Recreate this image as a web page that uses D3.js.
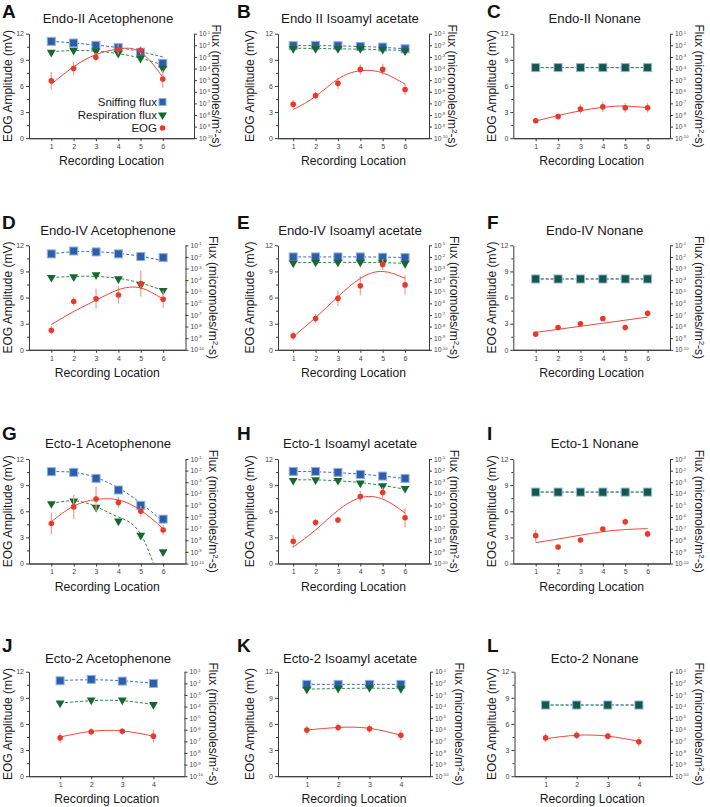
<!DOCTYPE html>
<html><head><meta charset="utf-8">
<script src="https://cdn.jsdelivr.net/npm/d3@7"></script>
<style>
body{margin:0;background:#fff}
svg{display:block}
text{font-family:"Liberation Sans",Arial,Helvetica,sans-serif}
</style>
</head><body>
<svg id="c" width="710" height="807"></svg>
<script>
// ---------------- DATA ----------------
const panelLetter = ["A","B","C","D","E","F","G","H","I","J","K","L"];
const panelTitle = ["Endo-II Acetophenone","Endo II Isoamyl acetate","Endo-II Nonane",
  "Endo-IV Acetophenone","Endo-IV Isoamyl acetate","Endo-IV Nonane",
  "Ecto-1 Acetophenone","Ecto-1 Isoamyl acetate","Ecto-1 Nonane",
  "Ecto-2 Acetophenone","Ecto-2 Isoamyl acetate","Ecto-2 Nonane"];
const locations6 = [1,2,3,4,5,6];
const locations4 = [1,2,3,4];
const eogTicks = [0,3,6,9,12];
const eogMinorTicks = [1.5,4.5,7.5,10.5];
const fluxExpTicks = [-1,-2,-3,-4,-5,-6,-7,-8,-9,-10];
const legendLabels = ["Sniffing flux","Respiration flux","EOG"];

// EOG amplitude (mV), mean per recording location
const eogMean = [
  [6.6,8.0,9.3,10.2,10.1,6.8],
  [3.9,4.9,6.3,7.9,7.9,5.6],
  [2.0,2.5,3.35,3.6,3.5,3.5],
  [2.25,5.55,5.85,6.3,7.6,5.8],
  [1.6,3.6,5.9,7.35,9.8,7.45],
  [1.8,2.55,3.0,3.6,2.55,4.2],
  [4.6,6.5,7.4,7.0,6.0,3.85],
  [2.55,4.7,5.0,7.7,8.15,5.25],
  [3.2,1.9,2.7,3.95,4.8,3.4],
  [4.4,5.1,5.15,4.6],
  [5.3,5.6,5.45,4.7],
  [4.4,4.7,4.6,3.95]
];
// EOG standard error
const eogErr = [
  [1.0,0.75,0.5,0.55,0.45,1.0],
  [0.5,0.4,0.65,0.6,0.65,0.65],
  [0.15,0.35,0.55,0.6,0.55,0.55],
  [0.5,0.5,1.15,1.0,1.5,1.0],
  [0.5,0.5,0.9,1.1,0.6,1.1],
  [0.2,0.15,0.2,0.2,0.3,0.35],
  [1.25,1.4,1.4,0.65,0.6,0.55],
  [0.75,0.4,0.3,0.6,0.6,1.1],
  [0.7,0.15,0.15,0.2,0.4,0.4],
  [0.6,0.4,0.35,0.75],
  [0.5,0.45,0.5,0.55],
  [0.5,0.45,0.4,0.55]
];
// EOG fitted curve, read at each recording location
const eogFit = [
  [6.2,8.2,9.6,10.25,9.9,7.0],
  [3.3,4.8,6.8,7.75,7.5,6.2],
  [1.98,2.6,3.15,3.55,3.7,3.5],
  [2.9,4.4,5.7,6.9,7.1,5.8],
  [1.5,3.7,6.1,8.2,9.0,8.2],
  [2.0,2.35,2.7,3.05,3.4,3.75],
  [4.8,6.6,7.35,7.3,6.1,4.0],
  [1.9,3.85,6.1,7.55,7.4,5.8],
  [2.4,2.8,3.25,3.65,3.9,4.0],
  [4.5,5.15,5.2,4.6],
  [5.3,5.6,5.5,4.7],
  [4.3,4.7,4.6,4.0]
];
// Sniffing flux, log10(micromoles/m2-s)
const sniffLog = [
  [-1.66,-1.8,-2.0,-2.2,-2.6,-3.55],
  [-2.03,-2.0,-2.03,-2.1,-2.15,-2.3],
  [-3.92,-3.92,-3.92,-3.92,-3.92,-3.92],
  [-1.74,-1.49,-1.57,-1.74,-1.97,-2.06],
  [-2.0,-2.0,-2.0,-2.0,-2.03,-2.06],
  [-3.9,-3.9,-3.9,-3.9,-3.9,-3.9],
  [-2.09,-2.15,-2.67,-3.67,-4.99,-6.18],
  [-2.07,-2.07,-2.15,-2.33,-2.47,-2.67],
  [-3.85,-3.85,-3.85,-3.85,-3.85,-3.85],
  [-1.78,-1.66,-1.81,-2.01],
  [-2.09,-2.09,-2.09,-2.09],
  [-3.87,-3.87,-3.87,-3.87]
];
const sniffFitLog = [
  [-1.66,-1.8,-1.98,-2.2,-2.55,-3.0],
  [-2.03,-2.03,-2.05,-2.1,-2.18,-2.3],
  [-3.92,-3.92,-3.92,-3.92,-3.92,-3.92],
  [-1.74,-1.55,-1.55,-1.7,-1.95,-2.34],
  [-2.0,-2.0,-2.0,-2.0,-2.02,-2.05],
  [-3.9,-3.9,-3.9,-3.9,-3.9,-3.9],
  [-2.09,-2.15,-2.6,-3.5,-4.8,-6.4],
  [-2.07,-2.1,-2.18,-2.3,-2.47,-2.68],
  [-3.85,-3.85,-3.85,-3.85,-3.85,-3.85],
  [-1.75,-1.7,-1.78,-2.0],
  [-2.09,-2.09,-2.09,-2.09],
  [-3.87,-3.87,-3.87,-3.87]
];
// Respiration flux, log10(micromoles/m2-s)
const respLog = [
  [-2.6,-2.43,-2.49,-2.69,-3.12,-3.98],
  [-2.29,-2.29,-2.29,-2.29,-2.35,-2.49],
  [-3.92,-3.92,-3.92,-3.92,-3.92,-3.92],
  [-3.77,-3.71,-3.54,-3.89,-4.4,-4.89],
  [-2.54,-2.46,-2.46,-2.46,-2.49,-2.57],
  [-3.9,-3.9,-3.9,-3.9,-3.9,-3.9],
  [-4.85,-4.62,-5.17,-6.35,-7.58,-8.99],
  [-2.85,-2.79,-2.85,-3.08,-3.31,-3.54],
  [-3.85,-3.85,-3.85,-3.85,-3.85,-3.85],
  [-3.71,-3.45,-3.45,-3.83],
  [-2.51,-2.43,-2.37,-2.46],
  [-3.87,-3.87,-3.87,-3.87]
];
const respFitLog = [
  [-2.55,-2.45,-2.5,-2.72,-3.1,-3.7],
  [-2.25,-2.27,-2.3,-2.33,-2.38,-2.45],
  [-3.92,-3.92,-3.92,-3.92,-3.92,-3.92],
  [-3.77,-3.68,-3.68,-3.85,-4.25,-4.89],
  [-2.5,-2.48,-2.47,-2.47,-2.5,-2.55],
  [-3.9,-3.9,-3.9,-3.9,-3.9,-3.9],
  [-4.85,-4.6,-5.1,-6.0,-7.5,-12.5],
  [-2.8,-2.8,-2.88,-3.03,-3.28,-3.6],
  [-3.85,-3.85,-3.85,-3.85,-3.85,-3.85],
  [-3.7,-3.5,-3.5,-3.83],
  [-2.5,-2.45,-2.42,-2.45],
  [-3.87,-3.87,-3.87,-3.87]
];

// ---------------- LAYOUT ----------------
const rowTop = [33.7, 245.3, 459, 671.7];
const plotH = 104.5;
const panelXRange = [
  [29,194],[278,429],[513.3,670],
  [29,185.5],[278,429],[513.3,670],
  [29,185.5],[278,429],[513.3,670],
  [29,184.5],[278,430],[514.5,670]
];
const panelXDomain = [
  [0,7.4],[0.32,7.07],[0,7],
  [0,7],[0.32,7.07],[0,7],
  [0,7],[0.32,7.07],[0,7],
  [0,5],[0.08,4.93],[0,5]
];
const panelFluxTitleX = [212,448,695, 209,450,695, 209,450,695, 209,455,695];
const squareRespPanels = [2,5,8,11]; // respiration markers hidden under square markers
const colTitleX = [108, 350, 594.7];
const colLetterX = [2, 237, 487];
const rowLetterY = [18, 229, 440, 652];
const rowTitleY = [22.7, 234.5, 447.7, 663];
const colYTitleX = [12, 254, 496];

const C = {
  blue:"#2f5ea8", blueEdge:"#8fb1e3", blueLine:"#3d6fc2",
  green:"#17682f", greenLine:"#2b8a45",
  red:"#e8392c", redErr:"#f39a92", redLine:"#ec4a3c",
  axis:"#3a3a3a", tickText:"#444", text:"#1a1a1a"
};

const svg = d3.select("#c");
svg.append("rect").attr("width",710).attr("height",807).attr("fill","#fff");

panelLetter.forEach((letter, i) => {
  const col = i % 3, row = Math.floor(i / 3);
  const locs = eogMean[i].length === 6 ? locations6 : locations4;
  const top = rowTop[row], bottom = top + plotH;
  const x = d3.scaleLinear().domain(panelXDomain[i]).range(panelXRange[i]);
  const y = d3.scaleLinear().domain([0,12]).range([bottom, top]);
  const yR = d3.scaleLog().domain([1e-10, 1e-1]).range([bottom, top]);
  const g = svg.append("g");
  const clipId = "clip" + i;
  g.append("clipPath").attr("id", clipId).append("rect")
    .attr("x", panelXRange[i][0]).attr("y", top - 6)
    .attr("width", panelXRange[i][1] - panelXRange[i][0]).attr("height", plotH + 6);

  // letter and title
  g.append("text").attr("x", colLetterX[col]).attr("y", rowLetterY[row])
    .attr("font-size", 19).attr("font-weight", "bold").attr("fill", "#111").text(letter);
  g.append("text").attr("x", colTitleX[col]).attr("y", rowTitleY[row])
    .attr("text-anchor","middle").attr("font-size", 13.2).attr("fill", C.text).text(panelTitle[i]);

  // left axis
  const axL = g.append("g").attr("transform", `translate(${panelXRange[i][0]},0)`)
    .call(d3.axisLeft(y).tickValues(eogTicks).tickSize(3).tickSizeOuter(0).tickPadding(2));
  g.append("g").attr("transform", `translate(${panelXRange[i][0]},0)`)
    .call(d3.axisLeft(y).tickValues(eogMinorTicks).tickSize(2).tickFormat(""))
    .call(s => s.select(".domain").remove());
  // right axis
  const axR = g.append("g").attr("transform", `translate(${panelXRange[i][1]},0)`)
    .call(d3.axisRight(yR).tickValues(fluxExpTicks.map(e => Math.pow(10, e)))
      .tickSize(3).tickSizeOuter(0).tickPadding(2).tickFormat(""));
  // bottom axis
  const axB = g.append("g").attr("transform", `translate(0,${bottom})`)
    .call(d3.axisBottom(x).tickValues(locs).tickSize(3).tickSizeOuter(0).tickPadding(3).tickFormat(d3.format("d")));
  [axL, axR, axB].forEach(a => {
    a.selectAll("text").attr("font-size", 7).attr("fill", C.tickText).attr("font-family", "Liberation Sans, Arial, sans-serif");
    a.selectAll("line,path").attr("stroke", C.axis);
  });
  axR.selectAll(".tick text").attr("font-size", 6.6).each(function(d){
    const t = d3.select(this);
    const e = Math.round(Math.log10(d));
    t.append("tspan").text("10");
    t.append("tspan").attr("dy", -2.6).attr("font-size", 4.3).text(String(e));
  });
  g.selectAll(".tick line").attr("stroke", C.axis);
  g.append("line").attr("x1", panelXRange[i][0]).attr("x2", panelXRange[i][1])
    .attr("y1", bottom + 0.5).attr("y2", bottom + 0.5).attr("stroke", C.axis);

  // axis titles
  g.append("text").attr("transform", `translate(${colYTitleX[col]},${(top+bottom)/2}) rotate(-90)`)
    .attr("text-anchor","middle").attr("font-size", 12).attr("fill", C.text).text("EOG Amplitude (mV)");
  const ft = g.append("text").attr("transform", `translate(${panelFluxTitleX[i]},${(top+bottom)/2}) rotate(90)`)
    .attr("text-anchor","middle").attr("font-size", 12).attr("fill", C.text);
  ft.append("tspan").text("Flux (micromoles/m");
  ft.append("tspan").attr("dy", -4).attr("font-size", 8).text("2");
  ft.append("tspan").attr("dy", 4).text("-s)");
  g.append("text").attr("x", (panelXRange[i][0] + panelXRange[i][1]) / 2).attr("y", bottom + 27)
    .attr("text-anchor","middle").attr("font-size", 12.2).attr("fill", C.text).text("Recording Location");

  const plot = g.append("g").attr("clip-path", `url(#${clipId})`);
  const lineR = d3.line().x((d, k) => x(locs[k])).y(d => yR(Math.pow(10, d))).curve(d3.curveNatural);
  const lineL = d3.line().x((d, k) => x(locs[k])).y(d => y(d)).curve(d3.curveNatural);

  // flux fits
  plot.append("path").attr("d", lineR(sniffFitLog[i])).attr("fill","none")
    .attr("stroke", C.blueLine).attr("stroke-width", 1).attr("stroke-dasharray","3,2");
  plot.append("path").attr("d", lineR(respFitLog[i])).attr("fill","none")
    .attr("stroke", C.greenLine).attr("stroke-width", 1).attr("stroke-dasharray","3,2")
    .attr("stroke-opacity", squareRespPanels.includes(i) ? 0.75 : 1);
  // sniffing markers
  plot.selectAll(".sq").data(sniffLog[i]).join("rect")
    .attr("x", (d,k) => x(locs[k]) - 4).attr("y", d => yR(Math.pow(10,d)) - 4)
    .attr("width", 8).attr("height", 8).attr("fill", C.blue).attr("stroke", C.blueEdge).attr("stroke-width", 1);
  // respiration markers
  const tri = d3.symbol().type(d3.symbolTriangle).size(34);
  if (squareRespPanels.includes(i)) {
    plot.selectAll(".rs").data(respLog[i]).join("rect")
      .attr("x", (d,k) => x(locs[k]) - 3.3).attr("y", d => yR(Math.pow(10,d)) - 3.3)
      .attr("width", 6.6).attr("height", 6.6).attr("fill", "#145a3c");
  } else {
    plot.selectAll(".tr").data(respLog[i]).join("path")
      .attr("d", tri)
      .attr("transform", (d,k) => `translate(${x(locs[k])},${yR(Math.pow(10,d))}) rotate(180)`)
      .attr("fill", C.green);
  }

  // EOG
  plot.selectAll(".eb").data(eogMean[i]).join("line")
    .attr("x1", (d,k) => x(locs[k])).attr("x2", (d,k) => x(locs[k]))
    .attr("y1", (d,k) => y(d - eogErr[i][k])).attr("y2", (d,k) => y(d + eogErr[i][k]))
    .attr("stroke", C.redErr).attr("stroke-width", 1.2);
  plot.append("path").attr("d", lineL(eogFit[i])).attr("fill","none")
    .attr("stroke", C.redLine).attr("stroke-width", 1);
  plot.selectAll(".pt").data(eogMean[i]).join("circle")
    .attr("cx", (d,k) => x(locs[k])).attr("cy", d => y(d)).attr("r", 2.8).attr("fill", C.red);

  // legend (panel A only)
  if (i === 0) {
    const lx = 157, ly = [102, 115, 128];
    legendLabels.forEach((lab, k) => {
      g.append("text").attr("x", lx).attr("y", ly[k] + 4).attr("text-anchor","end")
        .attr("font-size", 11.5).attr("fill", C.text).text(lab);
    });
    g.append("rect").attr("x", lx + 2).attr("y", ly[0] - 3.5).attr("width", 7).attr("height", 7)
      .attr("fill", C.blue).attr("stroke", C.blueEdge);
    g.append("path").attr("d", tri).attr("transform", `translate(${lx+5.5},${ly[1]}) rotate(180)`).attr("fill", C.green);
    g.append("circle").attr("cx", lx + 5.5).attr("cy", ly[2]).attr("r", 2.8).attr("fill", C.red);
  }
});
</script>
</body></html>
